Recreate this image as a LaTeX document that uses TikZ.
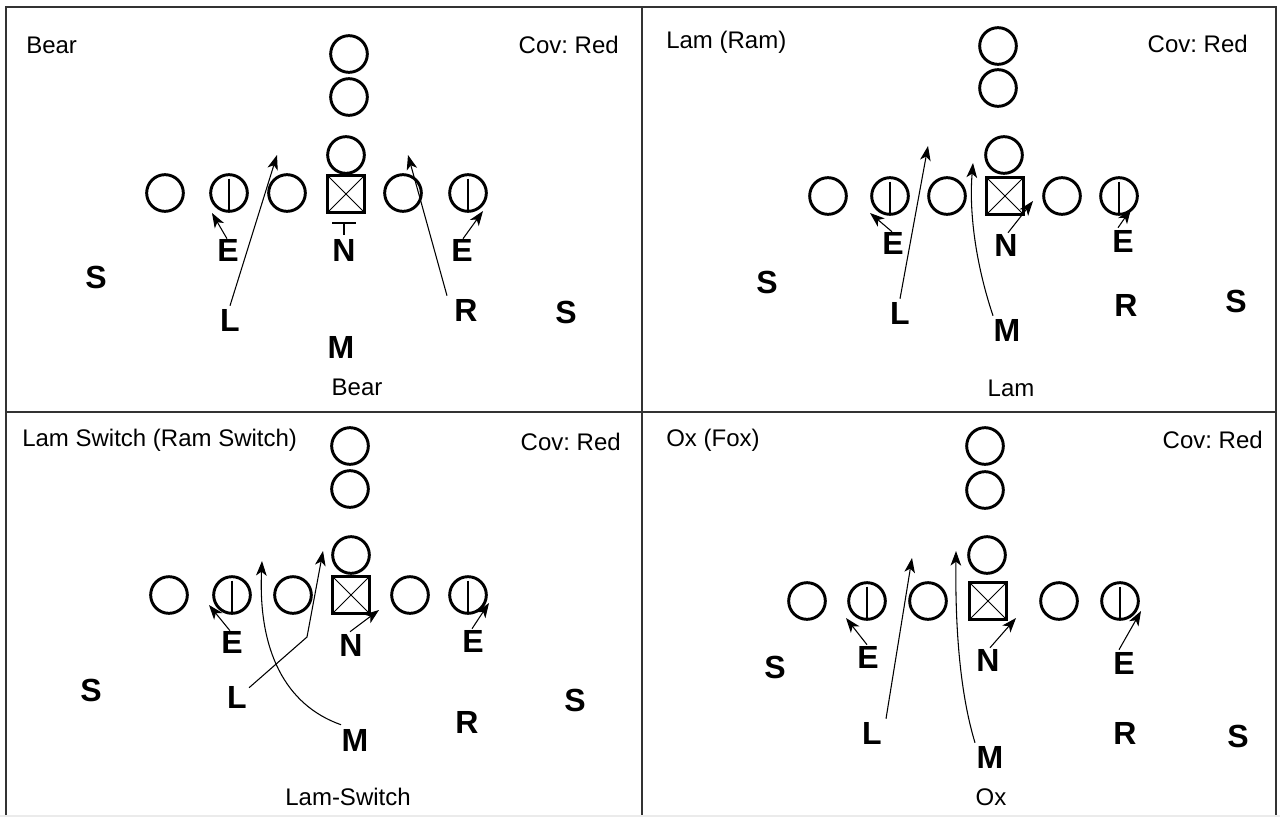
\documentclass[tikz,border=0pt]{standalone}
\usepackage{fontspec}
\setmainfont{Liberation Sans}
\usetikzlibrary{arrows.meta}
\frenchspacing
\tikzset{
  pl/.style={circle, draw, line width=2.2pt, minimum size=27.5pt, inner sep=0pt},
  endp/.style={pl, path picture={\draw[line width=1.8pt] ([yshift=-3pt]path picture bounding box.north) -- (path picture bounding box.south);}},
  ctr/.style={rectangle, draw, line width=2.2pt, minimum size=28pt, inner sep=0pt,
    path picture={\draw[line width=0.6pt] (path picture bounding box.north west) -- (path picture bounding box.south east) (path picture bounding box.north east) -- (path picture bounding box.south west);}},
  lab/.style={font=\bfseries\fontsize{24}{24}\selectfont, inner sep=0pt},
  ttl/.style={font=\fontsize{18}{18}\selectfont, inner sep=0pt},
  mv/.style={-{Stealth[length=11pt,width=8pt,inset=3pt]}, line width=0.8pt},
  frm/.style={line width=1.4pt, draw=black!80},
}
\begin{document}
\begin{tikzpicture}[x=0.75pt,y=-0.75pt]
\useasboundingbox (0,0) rectangle (1280,817);
\fill[black!8] (0,815) rectangle (1280,817);
% frame
\coordinate (fTL) at (6,7); \coordinate (fTR) at (1276,7);
\coordinate (fBL) at (6,815); \coordinate (fBR) at (1276,815);
\coordinate (fTM) at (642,7); \coordinate (fBM) at (642,815);
\coordinate (fML) at (6,412); \coordinate (fMR) at (1276,412);
\draw[frm] (fBL) -- (fTL) -- (fTR) -- (fBR);
\draw[frm] (fTM) -- (fBM);
\draw[frm] (fML) -- (fMR);

% ===== Q1 Bear =====
\node[ttl, anchor=west] (q1t) at (26,45) {Bear};
\node[ttl, anchor=east] (q1c) at (619,45) {Cov: Red};
\node[pl] (q1b1) at (349,54) {};
\node[pl] (q1b2) at (349,97) {};
\node[pl] (q1b3) at (346,155) {};
\node[pl] (q1o1) at (165,193) {};
\node[endp] (q1o2) at (229,193) {};
\node[pl] (q1o3) at (287,193) {};
\node[ctr] (q1ce) at (346,194) {};
\node[pl] (q1o4) at (403,193) {};
\node[endp] (q1o5) at (468,193) {};
\node[lab] (q1e1) at (228,250) {E};
\node[lab] (q1n) at (344,250) {N};
\node[lab] (q1e2) at (462,250) {E};
\node[lab] (q1s1) at (96,277) {S};
\node[lab] (q1l) at (230,320) {L};
\node[lab] (q1r) at (466,310) {R};
\node[lab] (q1s2) at (566,312) {S};
\node[lab] (q1m) at (341,347) {M};
\node[ttl] (q1bt) at (357,387) {Bear};
\coordinate (q1a1) at (212,213);
\coordinate (q1a2) at (277,155);
\coordinate (q1a3) at (408,155);
\coordinate (q1a4) at (483,211);
\coordinate (q1nb) at (344,223);
\draw[mv] (q1e1.north) ++(-1,0) -- (q1a1);
\draw[mv] (q1l.north) ++(0,-3) -- (q1a2);
\draw[mv] (q1r.north) ++(-19,-3) -- (q1a3);
\draw[mv] (q1e2.north) ++(1,0) -- (q1a4);
\draw[line width=0.8pt] (q1n.north) ++(0,-4) -- (q1nb) ++(-12,0) -- ++(24,0);

% ===== Q2 Lam =====
\node[ttl, anchor=west] (q2t) at (666,42) {Lam (Ram)};
\node[ttl, anchor=east] (q2c) at (1248,44) {Cov: Red};
\node[pl] (q2b1) at (998,46) {};
\node[pl] (q2b2) at (998,88) {};
\node[pl] (q2b3) at (1004,155) {};
\node[pl] (q2o1) at (828,196) {};
\node[endp] (q2o2) at (890,196) {};
\node[pl] (q2o3) at (947,196) {};
\node[ctr] (q2ce) at (1005,196) {};
\node[pl] (q2o4) at (1062,196) {};
\node[endp] (q2o5) at (1119,196) {};
\node[lab] (q2e1) at (893,243) {E};
\node[lab] (q2n) at (1006,245) {N};
\node[lab] (q2e2) at (1123,241) {E};
\node[lab] (q2s1) at (767,282) {S};
\node[lab] (q2l) at (900,313) {L};
\node[lab] (q2m) at (1007,330) {M};
\node[lab] (q2r) at (1126,305) {R};
\node[lab] (q2s2) at (1236,301) {S};
\node[ttl] (q2bt) at (1011,388) {Lam};
\coordinate (q2a1) at (870,213);
\coordinate (q2a2) at (928,146);
\coordinate (q2a3) at (973,163);
\coordinate (q2a4) at (1033,201);
\coordinate (q2a5) at (1131,209);
\draw[mv] (q2e1.north) ++(-1,0) -- (q2a1);
\draw[mv] (q2l.north) ++(0,-3) -- (q2a2);
\draw[mv] (q2m.north) ++(-14,-3) .. controls (975,262) and (969,210) .. (q2a3);
\draw[mv] (q2n.north) ++(2,-1) -- (q2a4);
\draw[mv] (q2e2.north) ++(-5,-2) -- (q2a5);

% ===== Q3 Lam Switch =====
\node[ttl, anchor=west] (q3t) at (22,440) {Lam Switch (Ram Switch)};
\node[ttl, anchor=east] (q3c) at (621,442) {Cov: Red};
\node[pl] (q3b1) at (350,446) {};
\node[pl] (q3b2) at (350,489) {};
\node[pl] (q3b3) at (351,555) {};
\node[pl] (q3o1) at (169,595) {};
\node[endp] (q3o2) at (232,595) {};
\node[pl] (q3o3) at (293,595) {};
\node[ctr] (q3ce) at (351,595) {};
\node[pl] (q3o4) at (410,595) {};
\node[endp] (q3o5) at (468,595) {};
\node[lab] (q3e1) at (232,642) {E};
\node[lab] (q3n) at (351,645) {N};
\node[lab] (q3e2) at (473,641) {E};
\node[lab] (q3s1) at (91,690) {S};
\node[lab] (q3l) at (237,697) {L};
\node[lab] (q3m) at (355,740) {M};
\node[lab] (q3r) at (467,722) {R};
\node[lab] (q3s2) at (575,700) {S};
\node[ttl] (q3bt) at (348,797) {Lam-Switch};
\coordinate (q3a1) at (209,605);
\coordinate (q3lk) at (307,637);
\coordinate (q3a2) at (323,551);
\coordinate (q3a3) at (262,561);
\coordinate (q3a4) at (379,610);
\coordinate (q3a5) at (489,603);
\draw[mv] (q3e1.north) ++(-2,0) -- (q3a1);
\draw[mv] (q3l.north east) ++(2,2) -- (q3lk) -- (q3a2);
\draw[mv] (q3m.north) ++(-14,-4) .. controls (285,705) and (258,650) .. (q3a3);
\draw[mv] (q3n.north) ++(-1,-2) -- (q3a4);
\draw[mv] (q3e2.north) ++(-1,-1) -- (q3a5);

% ===== Q4 Ox =====
\node[ttl, anchor=west] (q4t) at (666,440) {Ox (Fox)};
\node[ttl, anchor=east] (q4c) at (1263,440) {Cov: Red};
\node[pl] (q4b1) at (985,446) {};
\node[pl] (q4b2) at (985,490) {};
\node[pl] (q4b3) at (987,555) {};
\node[pl] (q4o1) at (807,601) {};
\node[endp] (q4o2) at (867,601) {};
\node[pl] (q4o3) at (928,601) {};
\node[ctr] (q4ce) at (988,601) {};
\node[pl] (q4o4) at (1059,601) {};
\node[endp] (q4o5) at (1120,601) {};
\node[lab] (q4s1) at (775,667) {S};
\node[lab] (q4e1) at (868,657) {E};
\node[lab] (q4n) at (988,660) {N};
\node[lab] (q4e2) at (1124,663) {E};
\node[lab] (q4l) at (872,733) {L};
\node[lab] (q4m) at (990,757) {M};
\node[lab] (q4r) at (1125,733) {R};
\node[lab] (q4s2) at (1238,736) {S};
\node[ttl] (q4bt) at (991,797) {Ox};
\coordinate (q4a1) at (846,618);
\coordinate (q4a2) at (912,558);
\coordinate (q4a3) at (956,551);
\coordinate (q4a4) at (1016,618);
\coordinate (q4a5) at (1141,611);
\draw[mv] (q4e1.north) ++(-1,-1) -- (q4a1);
\draw[mv] (q4l.north) ++(14,-3) -- (q4a2);
\draw[mv] (q4m.north) ++(-15,-3) .. controls (962,700) and (955,640) .. (q4a3);
\draw[mv] (q4n.north) ++(2,-1) -- (q4a4);
\draw[mv] (q4e2.north) ++(-5,-2) -- (q4a5);
\end{tikzpicture}
\end{document}
